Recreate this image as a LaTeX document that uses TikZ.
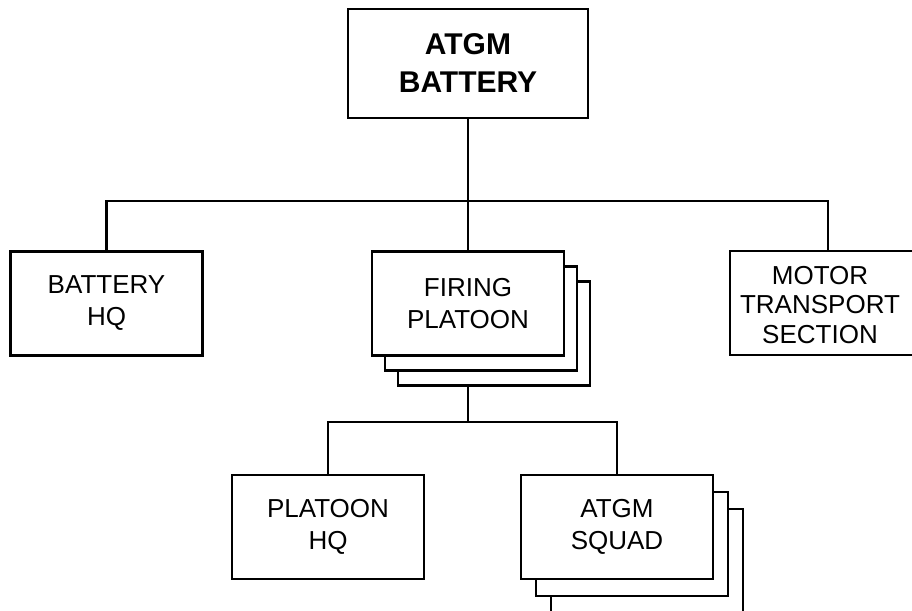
\documentclass[tikz,border=0pt]{standalone}
\usepackage{fontspec}
\setmainfont{Liberation Sans}
\usetikzlibrary{shadows,backgrounds}

\tikzset{
  orgbox/.style={draw, fill=white, rectangle, inner sep=0pt, align=center, line width=2.2pt,
    minimum width=192pt, minimum height=104pt, font=\fontsize{26}{32}\selectfont},
  topbox/.style={orgbox, minimum width=240pt, minimum height=109pt,
    font=\bfseries\fontsize{30}{38}\selectfont},
  stackbox/.style 2 args={double copy shadow={shadow xshift=#1, shadow yshift=#2, line width=2.2pt}},
  link/.style={line width=2.2pt}
}

\begin{document}
\begin{tikzpicture}[x=1pt, y=1pt, line width=2.2pt]
	\useasboundingbox (0,0) rectangle (912,-610);
	\clip (0,0) rectangle (912,-610);
	% battery level
	\node[topbox] (atgmbty) at (468,-63.5) {ATGM\\BATTERY};
	\node[orgbox] (btyhq) at (106.5,-303.5) {BATTERY\\HQ};
	\node[orgbox, stackbox={13pt}{-15pt}] (firepltn) at (468,-303.5) {FIRING\\PLATOON};
	\node[orgbox, minimum width=240pt, font=\fontsize{26}{29.5}\selectfont] (mtrsect) at (850,-303)
		{\raisebox{-5pt}[\height][\depth]{\begin{tabular}{@{}c@{}}MOTOR\\TRANSPORT\\SECTION\end{tabular}}\hspace*{60pt}};
	% platoon level
	\node[orgbox] (pltnhq) at (328,-527) {PLATOON\\HQ};
	\node[orgbox, stackbox={15pt}{-17pt}] (atgmsqd) at (617,-527) {ATGM\\SQUAD};
	\coordinate (topbus) at (468,-201);
	\coordinate (pltbus) at (468,-422);
	\begin{scope}[on background layer]
		\draw[link] (atgmbty.south) -- (topbus) -- (firepltn.north);
		\draw[link] (btyhq.north) |- (topbus) -| (mtrsect.north -| 828,0);
		\draw[link] (firepltn.south) -- (pltbus);
		\draw[link] (pltnhq.north) |- (pltbus) -| (atgmsqd.north);
	\end{scope}
\end{tikzpicture}
\end{document}
